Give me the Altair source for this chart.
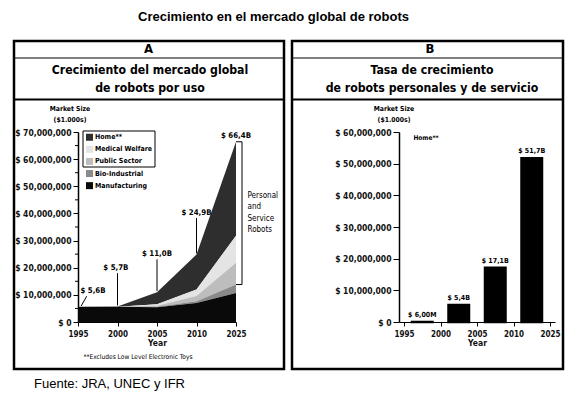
import json
import altair as alt
import pandas as pd

# ---------------- data ----------------
years = ["1995", "2000", "2005", "2010", "2025"]
series = ["Home**", "Medical Welfare", "Public Sector", "Bio-Industrial", "Manufacturing"]
home = [0.0, 0.1, 4.5, 12.9, 34.6]
medical_welfare = [0.0, 0.0, 0.5, 2.4, 10.0]
public_sector = [0.0, 0.0, 0.4, 2.0, 8.0]
bio_industrial = [0.0, 0.0, 0.2, 0.6, 3.1]
manufacturing = [5.6, 5.6, 5.4, 7.0, 10.7]
total_labels = ["$ 5,6B", "$ 5,7B", "$ 11,0B", "$ 24,9B", "$ 66,4B"]

bar_periods = ["1995", "2000", "2005", "2010"]
home_market = [0.006, 5.4, 17.1, 51.7]
home_labels = ["$ 6,00M", "$ 5,4B", "$ 17,1B", "$ 51,7B"]

yA_ticks = [0, 10, 20, 30, 40, 50, 60, 70]
yA_minor = [5, 15, 25, 35, 45, 55, 65]
yB_ticks = [0, 10, 20, 30, 40, 50, 60]

# ---------------- style / layout ----------------
colors = ["#2e2e2e", "#e4e4e4", "#bdbdbd", "#8a8a8a", "#0a0a0a"]
NARROW = "DejaVu Sans Condensed, DejaVu Sans, sans-serif"
ARIAL = "Liberation Sans, Arial, sans-serif"
WA, HA = 158, 190
WB, HB = 156, 190
label_lift = [5.8, 14.2, 14.0, 15.3, 2.2]
label_shift = [0.38, -0.04, 0.0, 0.0, 0.0]

XLAB = json.dumps(years) + "[datum.value]"
YLAB = "datum.value == 0 ? '$ 0' : '$ ' + format(datum.value * 1000000, ',')"

stack_values = [home, medical_welfare, public_sector, bio_industrial, manufacturing]
rows = []
for s_i, (name, vals) in enumerate(zip(series, stack_values)):
    for i, v in enumerate(vals):
        rows.append({"series": name, "ord": len(series) - 1 - s_i, "idx": i, "value": v})
df_area = pd.DataFrame(rows)

totals = [round(sum(v[i] for v in stack_values), 1) for i in range(len(years))]
df_tot = pd.DataFrame({
    "lx": [i + label_shift[i] for i in range(len(years))],
    "ly": [totals[i] + label_lift[i] for i in range(len(years))],
    "label": total_labels,
})
lead_rows = [{"x0": 0.08, "x1": 0.22, "y0": totals[0] + 0.3, "y1": totals[0] + 3.9}]
for i in (1, 2, 3):
    lead_rows.append({"x0": i, "x1": i, "y0": totals[i] + 0.4, "y1": totals[i] + label_lift[i] - 1.9})
df_lead = pd.DataFrame(lead_rows)
lo = manufacturing[-1] + bio_industrial[-1]
hi = totals[-1]
df_br = pd.DataFrame({"lo": [lo], "hi": [hi], "mid": [(lo + hi) / 2]})
df_minor = pd.DataFrame({"v": yA_minor})

df_bar = pd.DataFrame({"i": list(range(len(bar_periods))), "period": bar_periods,
                       "value": home_market, "label": home_labels})

one = pd.DataFrame({"k": [0]})


def txt(text, x, y, size, weight="normal", align="center", font=NARROW, baseline="middle"):
    return alt.Chart(one).mark_text(
        text=text, fontSize=size, fontWeight=weight, align=align, baseline=baseline,
        font=font, color="black"
    ).encode(x=alt.value(x), y=alt.value(y))


def hrule(x0, x1, y, w):
    return alt.Chart(one).mark_rule(color="black", strokeWidth=w).encode(
        x=alt.value(x0), x2=alt.value(x1), y=alt.value(y))


def box(x0, x1, y0, y1, w):
    return alt.Chart(one).mark_rect(fillOpacity=0, stroke="black", strokeWidth=w).encode(
        x=alt.value(x0), x2=alt.value(x1), y=alt.value(y0), y2=alt.value(y1))


def x_axis():
    return alt.Axis(values=[0, 1, 2, 3, 4], labelExpr=XLAB, title="Year", tickSize=4,
                    labelPadding=4, labelFontSize=8, titleFontSize=8.5, titlePadding=0,
                    labelFlush=False, labelOverlap=False, grid=False)


def y_axis(vals, tick):
    return alt.Axis(values=vals, labelExpr=YLAB, title=None, tickSize=tick, labelPadding=2,
                    labelFontSize=8.5, labelOverlap=False, grid=False, domainWidth=1.5)


# ---------------- Panel A ----------------
xA_scale = alt.Scale(domain=[0, 4], nice=False, zero=False)
yA_scale = alt.Scale(domain=[0, 70], nice=False)
xA_ax = x_axis()
yA_ax = y_axis(yA_ticks, 5)

area = alt.Chart(df_area).mark_area(interpolate="linear").encode(
    x=alt.X("idx:Q", scale=xA_scale, axis=xA_ax),
    y=alt.Y("value:Q", stack="zero", scale=yA_scale, axis=yA_ax),
    color=alt.Color("series:N", scale=alt.Scale(domain=series, range=colors),
                    legend=alt.Legend(orient="none", legendX=8, legendY=1.75, title=None,
                                      symbolType="square", symbolSize=49, labelFontSize=7,
                                      labelFont=NARROW, labelFontWeight="bold", rowPadding=4.1,
                                      padding=0, labelOffset=2, symbolStrokeWidth=0)),
    order=alt.Order("ord:Q"),
)

minor = alt.Chart(df_minor).mark_rule(color="black", strokeWidth=1).encode(
    y=alt.Y("v:Q", scale=yA_scale, axis=yA_ax), x=alt.value(-3), x2=alt.value(0))

leaders = alt.Chart(df_lead).mark_rule(color="black", strokeWidth=1).encode(
    x=alt.X("x0:Q", scale=xA_scale, axis=xA_ax), x2="x1:Q",
    y=alt.Y("y0:Q", scale=yA_scale, axis=yA_ax), y2="y1:Q")

tot_text = alt.Chart(df_tot).mark_text(fontSize=7.8, fontWeight="bold", font=NARROW,
                                       color="black", baseline="middle").encode(
    x=alt.X("lx:Q", scale=xA_scale, axis=xA_ax),
    y=alt.Y("ly:Q", scale=yA_scale, axis=yA_ax), text="label:N")

br_v = alt.Chart(df_br).mark_rule(color="black", strokeWidth=1).encode(
    x=alt.value(WA + 6), y=alt.Y("lo:Q", scale=yA_scale, axis=yA_ax), y2="hi:Q")
br_t = alt.Chart(df_br).mark_rule(color="black", strokeWidth=1).encode(
    x=alt.value(WA), x2=alt.value(WA + 6), y=alt.Y("hi:Q", scale=yA_scale, axis=yA_ax))
br_b = alt.Chart(df_br).mark_rule(color="black", strokeWidth=1).encode(
    x=alt.value(WA), x2=alt.value(WA + 6), y=alt.Y("lo:Q", scale=yA_scale, axis=yA_ax))
br_txt = alt.Chart(df_br).mark_text(
    text=["Personal", "and", "Service", "Robots"], fontSize=8, font=NARROW, align="left",
    baseline="middle", lineHeight=11.3, color="black", dy=-17).encode(
    x=alt.value(WA + 11.5), y=alt.Y("mid:Q", scale=yA_scale, axis=yA_ax))

legend_box = box(5, 77, -1, 35, 1)

panelA = alt.layer(
    box(-64, 206, -91, 237, 2.5),
    hrule(-64, 206, -74, 1),
    hrule(-64, 206, -32.5, 2),
    txt("A", 70.5, -83, 13, "bold"),
    txt("Crecimiento del mercado global", 72, -62, 12.2, "bold"),
    txt("de robots por uso", 72, -44, 12.2, "bold"),
    txt("Market Size", -8, -23, 6.8, "bold"),
    txt("($1.000s)", -8, -12, 6.8, "bold"),
    txt("**Excludes Low Level Electronic Toys", 60, 225, 6.6),
    txt("Fuente: JRA, UNEC y IFR", -44, 252, 13, "normal", "left", ARIAL),
    area, minor, leaders, tot_text, br_v, br_t, br_b, br_txt, legend_box,
).properties(width=WA, height=HA)

# ---------------- Panel B ----------------
xB_scale = alt.Scale(domain=[0, 4], nice=False, zero=False)
yB_scale = alt.Scale(domain=[0, 60], nice=False)
xB_ax = x_axis()
yB_ax = y_axis(yB_ticks, 6)

bars = alt.Chart(df_bar).transform_calculate(mid="datum.i + 0.5").mark_bar(
    size=20.5, color="black", stroke="black", strokeWidth=2.5).encode(
    x=alt.X("mid:Q", scale=xB_scale, axis=xB_ax),
    y=alt.Y("value:Q", scale=yB_scale, axis=yB_ax),
)
bar_text = alt.Chart(df_bar).transform_calculate(mid="datum.i + 0.5").mark_text(
    fontSize=7, fontWeight="bold", font=NARROW, color="black", baseline="bottom", dy=-4).encode(
    x=alt.X("mid:Q", scale=xB_scale, axis=xB_ax),
    y=alt.Y("value:Q", scale=yB_scale, axis=yB_ax), text="label:N")

panelB = alt.layer(
    box(-107, 164, -91, 237, 2.5),
    hrule(-107, 164, -74, 1),
    hrule(-107, 164, -32.5, 2),
    txt("B", 31, -83, 13, "bold"),
    txt("Tasa de crecimiento", 33, -62, 12.2, "bold"),
    txt("de robots personales y de servicio", 33, -44, 12.2, "bold"),
    txt("Market Size", -5, -23.5, 6.8, "bold"),
    txt("($1.000s)", -5, -12.5, 6.8, "bold"),
    txt("Home**", 27, 6, 6.5, "bold"),
    bars, bar_text,
).properties(width=WB, height=HB)

chart = alt.hconcat(panelA, panelB, spacing=4).properties(
    title=alt.TitleParams(text="Crecimiento en el mercado global de robots",
                          font=ARIAL, fontSize=13, fontWeight="bold", anchor="middle",
                          dx=-15, offset=3, baseline="bottom", color="black"),
    padding={"left": 4, "top": 2, "right": 0, "bottom": 0},
).configure_view(strokeWidth=0).configure_axis(
    labelFont=NARROW, titleFont=NARROW, labelFontWeight="bold", titleFontWeight="bold",
    labelColor="#111111", titleColor="#111111", domainColor="black", tickColor="black",
)

chart.save("out.html", embed_options={"renderer": "svg", "actions": False})
